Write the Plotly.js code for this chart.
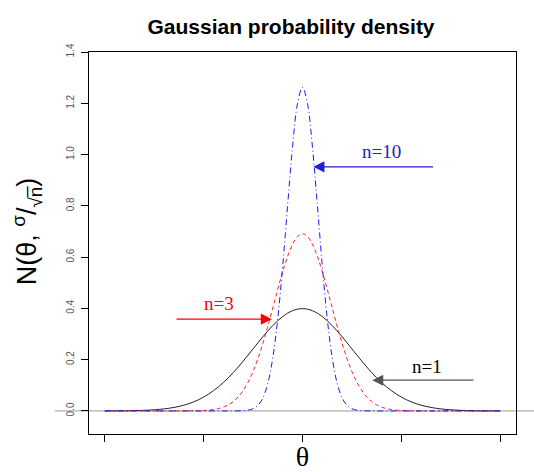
<!DOCTYPE html>
<html>
<head>
<meta charset="utf-8">
<script src="https://cdn.plot.ly/plotly-3.0.1.min.js"></script>
<style>html,body{margin:0;padding:0;background:#fff;}#chart{width:534px;height:472px;}</style>
</head>
<body>
<div id="chart"></div>
<script>
var theta = [-4.0,-3.9,-3.8,-3.7,-3.6,-3.5,-3.4,-3.3,-3.2,-3.1,-3.0,-2.9,-2.8,-2.7,-2.6,-2.5,-2.4,-2.3,-2.2,-2.1,-2.0,-1.9,-1.8,-1.7,-1.6,-1.5,-1.4,-1.3,-1.2,-1.1,-1.0,-0.9,-0.8,-0.7,-0.6,-0.5,-0.4,-0.3,-0.2,-0.1,0.0,0.1,0.2,0.3,0.4,0.5,0.6,0.7,0.8,0.9,1.0,1.1,1.2,1.3,1.4,1.5,1.6,1.7,1.8,1.9,2.0,2.1,2.2,2.3,2.4,2.5,2.6,2.7,2.8,2.9,3.0,3.1,3.2,3.3,3.4,3.5,3.6,3.7,3.8,3.9,4.0];

var densityN1 = [0.0001,0.0002,0.0003,0.0004,0.0006,0.0009,0.0012,0.0017,0.0024,0.0033,0.0044,0.0060,0.0079,0.0104,0.0136,0.0175,0.0224,0.0283,0.0355,0.0440,0.0540,0.0656,0.0790,0.0940,0.1109,0.1295,0.1497,0.1714,0.1942,0.2179,0.2420,0.2661,0.2897,0.3123,0.3332,0.3521,0.3683,0.3814,0.3910,0.3970,
0.3989,
0.3970,0.3910,0.3814,0.3683,0.3521,0.3332,0.3123,0.2897,0.2661,0.2420,0.2179,0.1942,0.1714,0.1497,0.1295,0.1109,0.0940,0.0790,0.0656,0.0540,0.0440,0.0355,0.0283,0.0224,0.0175,0.0136,0.0104,0.0079,0.0060,0.0044,0.0033,0.0024,0.0017,0.0012,0.0009,0.0006,0.0004,0.0003,0.0002,0.0001];

var densityN3 = [0,0,0,0,0,0,0,0,0,0,0,0,0,0,0,0,0.0001,0.0002,0.0005,0.0009,0.0017,0.0031,0.0054,0.0090,0.0149,0.0236,0.0365,0.0548,0.0797,0.1125,0.1542,0.2050,0.2646,0.3313,0.4027,0.4749,0.5436,0.6037,0.6508,0.6807,
0.6910,
0.6807,0.6508,0.6037,0.5436,0.4749,0.4027,0.3313,0.2646,0.2050,0.1542,0.1125,0.0797,0.0548,0.0365,0.0236,0.0149,0.0090,0.0054,0.0031,0.0017,0.0009,0.0005,0.0002,0.0001,0,0,0,0,0,0,0,0,0,0,0,0,0,0,0,0];

var densityN10 = [0,0,0,0,0,0,0,0,0,0,0,0,0,0,0,0,0,0,0,0,0,0,0,0,0,0,0.0001,0.0003,0.0009,0.0030,0.0085,0.0220,0.0514,0.1089,0.2085,0.3614,0.5669,0.8044,1.0329,1.2001,
1.2616,
1.2001,1.0329,0.8044,0.5669,0.3614,0.2085,0.1089,0.0514,0.0220,0.0085,0.0030,0.0009,0.0003,0.0001,0,0,0,0,0,0,0,0,0,0,0,0,0,0,0,0,0,0,0,0,0,0,0,0,0,0];

var xTicks = [-4,-2,0,2,4];
var yTicks = [0.0,0.2,0.4,0.6,0.8,1.0,1.2,1.4];
var yTickText = ['0.0','0.2','0.4','0.6','0.8','1.0','1.2','1.4'];

var labels = ['n=1','n=3','n=10'];
// label text positions and arrow (head / tail) positions in data units
var labelX = [2.52,-1.69,1.59];
var labelY = [0.175,0.42,1.01];
var arrowHeadX = [1.41,-0.62,0.22];
var arrowHeadY = [0.12,0.358,0.952];
var arrowTailX = [3.49,-2.58,2.67];

var traces = [
  {x: theta, y: densityN1, mode:'lines', line:{color:'#222222', width:1, shape:'spline'}, hoverinfo:'skip'},
  {x: theta, y: densityN3, mode:'lines', line:{color:'#ff2020', width:1, dash:'4px,3px', shape:'spline'}, hoverinfo:'skip'},
  {x: theta, y: densityN10, mode:'lines', line:{color:'#1a1aff', width:1, dash:'6px,3px,1px,3px', shape:'spline'}, hoverinfo:'skip'}
];

var txtColors = ['#000000','#ff0000','#2020c8'];
var arrColors = ['#555555','#ff0000','#2020c8'];
var annotations = [];
for (var i=0;i<labels.length;i++){
  annotations.push({x:labelX[i], y:labelY[i], xref:'x', yref:'y', text:labels[i], showarrow:false,
    font:{family:'Liberation Serif, Times New Roman, serif', size:19, color:txtColors[i]}});
  annotations.push({x:arrowHeadX[i], y:arrowHeadY[i], xref:'x', yref:'y', ax:arrowTailX[i], ay:arrowHeadY[i], axref:'x', ayref:'y',
    text:'', showarrow:true, arrowhead:2, arrowsize:1.7, arrowwidth:1.3, arrowcolor:arrColors[i], standoff:0});
}
// y-axis title drawn as a rotated annotation
annotations.push({xref:'paper', yref:'paper', x:-0.145, y:0.531, xanchor:'center', yanchor:'middle', textangle:-90, showarrow:false,
  text:'N(θ, <sup>σ</sup>/<sub>√n̅</sub>)', font:{family:'Liberation Sans, Arial, sans-serif', size:27, color:'#000'}});

var layout = {
  width:534, height:472,
  margin:{l:89, r:18, t:52, b:38},
  paper_bgcolor:'#ffffff', plot_bgcolor:'#ffffff',
  showlegend:false,
  title:{text:'<b>Gaussian probability density</b>', x:0.545, xanchor:'center', y:0.943, yanchor:'middle',
    font:{family:'Liberation Sans, Arial, sans-serif', size:21, color:'#000'}},
  xaxis:{range:[-4.32,4.32], tickvals:xTicks, showticklabels:false, ticks:'outside', ticklen:7, tickcolor:'#000',
    showline:true, mirror:true, linecolor:'#000', linewidth:1, showgrid:false, zeroline:false,
    title:{text:'θ', font:{family:'Liberation Serif, Times New Roman, serif', size:28, color:'#000'}, standoff:6}},
  yaxis:{range:[-0.09,1.40], tickvals:yTicks, ticktext:yTickText, ticks:'outside', ticklen:7, tickcolor:'#000',
    tickangle:-90, tickfont:{family:'Liberation Sans, Arial, sans-serif', size:10, color:'#555'}, ticklabelstandoff:3,
    showline:true, mirror:true, linecolor:'#000', linewidth:1, showgrid:false, zeroline:false},
  shapes:[{type:'line', xref:'paper', yref:'y', x0:-0.08, x1:1.05, y0:0, y1:0, line:{color:'#999999', width:1}, layer:'below'}],
  annotations:annotations
};

Plotly.newPlot('chart', traces, layout, {displayModeBar:false, staticPlot:true});
</script>
</body>
</html>
